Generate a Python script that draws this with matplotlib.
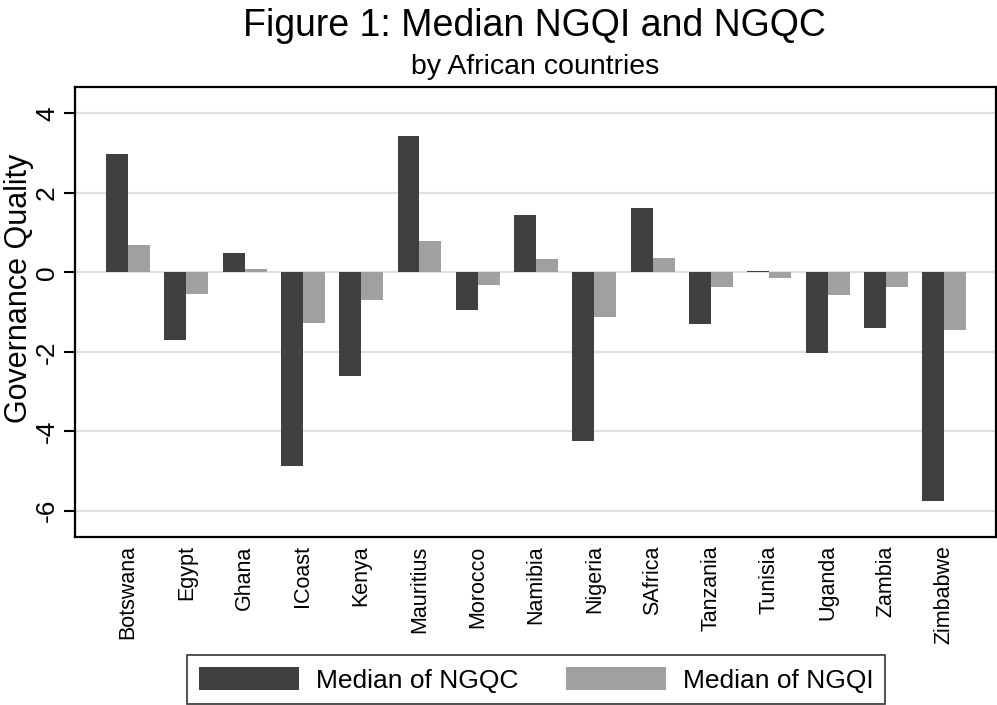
import numpy as np
import matplotlib.pyplot as plt
from matplotlib.patches import Patch

plt.rcParams['font.family'] = ['Liberation Sans', 'DejaVu Sans']

countries = ["Botswana", "Egypt", "Ghana", "ICoast", "Kenya", "Mauritius",
             "Morocco", "Namibia", "Nigeria", "SAfrica", "Tanzania",
             "Tunisia", "Uganda", "Zambia", "Zimbabwe"]
ngqc = [2.97, -1.71, 0.48, -4.88, -2.61, 3.43, -0.96, 1.44, -4.25, 1.61,
        -1.29, 0.03, -2.02, -1.39, -5.76]
ngqi = [0.68, -0.55, 0.08, -1.28, -0.71, 0.78, -0.32, 0.33, -1.13, 0.35,
        -0.38, -0.15, -0.58, -0.38, -1.45]
yticks = [-6, -4, -2, 0, 2, 4]

dark = "#404040"
light = "#a0a0a0"

fig = plt.figure(figsize=(9.97, 7.05), dpi=100)
ax = fig.add_axes([0.0752, 0.2383, 0.9238, 0.6383])

x = np.arange(len(countries))
w = 0.377
ax.bar(x - w / 2, ngqc, w, color=dark, zorder=2)
ax.bar(x + w / 2, ngqi, w, color=light, zorder=2)

ax.set_xlim(-0.91, 14.89)
ax.set_ylim(-6.66, 4.66)
ax.set_yticks(yticks)
ax.set_yticklabels([str(t) for t in yticks], rotation=90, va='center', fontsize=19)
ax.yaxis.grid(True, color="#e0e0e0", lw=1.6, zorder=0)
ax.set_axisbelow(True)
ax.tick_params(axis='y', direction='out', length=8, width=1.5, pad=3.5)
ax.set_xticks(x)
ax.set_xticklabels(countries, rotation=90, fontsize=15.5)
ax.tick_params(axis='x', length=0, pad=6)
for s in ax.spines.values():
    s.set_linewidth(1.6)
ax.set_ylabel("Governance Quality", fontsize=22)
ax.yaxis.set_label_coords(-0.044, 0.553)

fig.text(0.5365, 0.963, "Figure 1: Median NGQI and NGQC", ha='center', va='center', fontsize=27)
fig.text(0.5365, 0.905, "by African countries", ha='center', va='center', fontsize=20.5)

handles = [Patch(facecolor=dark), Patch(facecolor=light)]
leg = fig.legend(handles, ["Median of NGQC", "Median of NGQI"], ncol=2,
                 loc='center', bbox_to_anchor=(0.5376, 0.036), fontsize=19,
                 frameon=True, fancybox=False, edgecolor='black',
                 handlelength=3.8, handleheight=1.0, handletextpad=0.64,
                 columnspacing=1.8, borderpad=0.45, borderaxespad=0)
leg.get_frame().set_linewidth(1.2)

fig.savefig("out.png", dpi=100)
